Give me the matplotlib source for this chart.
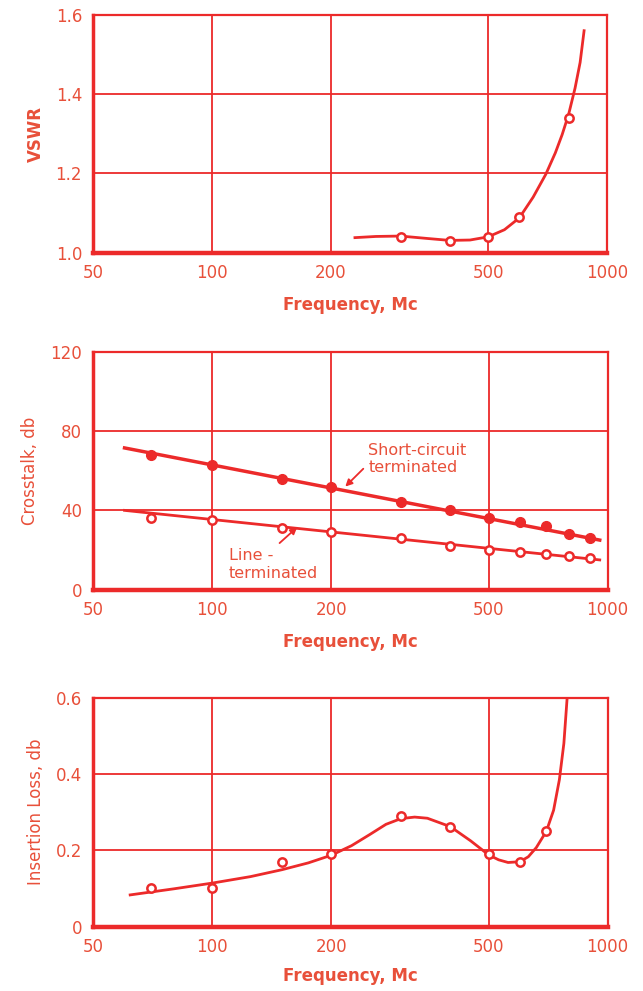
import matplotlib.pyplot as plt
import numpy as np

RED = "#ec2a2a"
TXT = "#e8503a"

# VSWR panel
vswr_pts_f = [300, 400, 500, 600, 800]
vswr_pts = [1.04, 1.03, 1.04, 1.09, 1.34]
vswr_curve_f = [230, 260, 300, 350, 400, 450, 500, 550, 600, 650, 700, 740, 770, 800, 830, 855, 875]
vswr_curve = [1.038, 1.041, 1.042, 1.036, 1.031, 1.032, 1.040, 1.058, 1.088, 1.140, 1.198, 1.252, 1.298, 1.350, 1.415, 1.480, 1.560]

# Crosstalk panel
xt_f = [70, 100, 150, 200, 300, 400, 500, 600, 700, 800, 900]
short_circuit = [68, 63, 56, 52, 44, 40, 36, 34, 32, 28, 26]
line_term = [36, 35, 31, 29, 26, 22, 20, 19, 18, 17, 16]
short_fit_f = [60, 955]
short_fit = [71.5, 25]
line_fit_f = [60, 955]
line_fit = [40, 15]

# Insertion loss panel
il_pts_f = [70, 100, 150, 200, 300, 400, 500, 600, 700]
il_pts = [0.10, 0.10, 0.17, 0.19, 0.29, 0.26, 0.19, 0.17, 0.25]
il_curve_f = [62, 80, 100, 125, 150, 175, 200, 225, 250, 275, 300, 325, 350, 400, 450, 500,
              530, 560, 600, 630, 660, 700, 730, 755, 775, 790]
il_curve = [0.083, 0.099, 0.114, 0.131, 0.149, 0.167, 0.187, 0.212, 0.241, 0.268, 0.283, 0.287, 0.284, 0.262, 0.225, 0.188,
            0.175, 0.168, 0.170, 0.183, 0.207, 0.250, 0.305, 0.385, 0.480, 0.600]

xticks = [50, 100, 200, 500, 1000]

fig = plt.figure(figsize=(6.43, 9.91), dpi=100)
axes_rects = [
    [0.145, 0.745, 0.799, 0.240],
    [0.145, 0.405, 0.800, 0.240],
    [0.145, 0.065, 0.800, 0.231],
]
ylims = [(1.0, 1.6), (0, 120), (0, 0.6)]
yticks = [[1.0, 1.2, 1.4, 1.6], [0, 40, 80, 120], [0, 0.2, 0.4, 0.6]]
ylabels_txt = [["1.0", "1.2", "1.4", "1.6"], ["0", "40", "80", "120"], ["0", "0.2", "0.4", "0.6"]]
ynames = ["VSWR", "Crosstalk, db", "Insertion Loss, db"]
xpads = [10, 10, 8]

axs = []
for i, rect in enumerate(axes_rects):
    ax = fig.add_axes(rect)
    ax.set_xscale("log")
    ax.set_xlim(50, 1000)
    ax.set_ylim(*ylims[i])
    ax.set_xticks(xticks)
    ax.set_xticklabels([str(t) for t in xticks])
    ax.xaxis.set_minor_locator(plt.NullLocator())
    ax.set_yticks(yticks[i])
    ax.set_yticklabels(ylabels_txt[i])
    ax.tick_params(length=0, labelsize=12, labelcolor=TXT, pad=8)
    for v in [100, 200, 500]:
        ax.axvline(v, color=RED, lw=1.3, zorder=1)
    for v in yticks[i][1:-1]:
        ax.axhline(v, color=RED, lw=1.3, zorder=1)
    for s in ["top", "right"]:
        ax.spines[s].set_color(RED)
        ax.spines[s].set_linewidth(1.6)
    ax.spines["left"].set_color(RED)
    ax.spines["left"].set_linewidth(2.5)
    ax.spines["bottom"].set_color(RED)
    ax.spines["bottom"].set_linewidth(3.2)
    ax.set_xlabel("Frequency, Mc", color=TXT, fontsize=12, labelpad=xpads[i], fontweight="bold")
    ax.set_ylabel(ynames[i], color=TXT, fontsize=12, labelpad=8,
                  fontweight="bold" if i == 0 else "normal")
    axs.append(ax)

ax = axs[0]
ax.plot(vswr_curve_f, vswr_curve, color=RED, lw=2, zorder=3)
ax.plot(vswr_pts_f, vswr_pts, "o", ms=6, mfc="white", mec=RED, mew=1.8, zorder=4)

ax = axs[1]
ax.plot(short_fit_f, short_fit, color=RED, lw=2.5, zorder=3)
ax.plot(xt_f, short_circuit, "o", ms=7, color=RED, zorder=4)
ax.plot(line_fit_f, line_fit, color=RED, lw=2, zorder=3)
ax.plot(xt_f, line_term, "o", ms=6, mfc="white", mec=RED, mew=1.8, zorder=4)
ax.text(248, 58, "Short-circuit\nterminated", color=TXT, fontsize=11.5,
        ha="left", va="bottom", linespacing=1.1)
ax.annotate("", xy=(217, 52), xytext=(241, 61),
            arrowprops=dict(arrowstyle="-|>", color=RED, lw=1.3, shrinkA=0, shrinkB=0))
ax.text(110, 4.5, "Line -\nterminated", color=TXT, fontsize=11.5,
        ha="left", va="bottom", linespacing=1.2, zorder=5)
ax.annotate("", xy=(164, 31.5), xytext=(148, 23.5),
            arrowprops=dict(arrowstyle="-|>", color=RED, lw=1.3, shrinkA=0, shrinkB=0))

ax = axs[2]
ax.plot(il_curve_f, il_curve, color=RED, lw=2, zorder=3)
ax.plot(il_pts_f, il_pts, "o", ms=6, mfc="white", mec=RED, mew=1.8, zorder=4)

fig.savefig("out.png", dpi=100)
